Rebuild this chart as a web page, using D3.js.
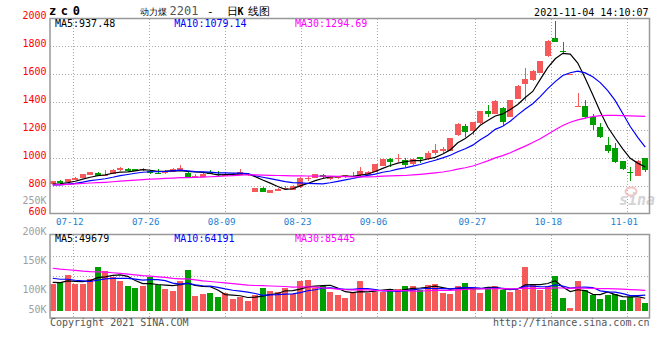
<!DOCTYPE html>
<html><head><meta charset="utf-8">
<title>动力煤2201 日K线图</title>
<script src="https://cdn.jsdelivr.net/npm/d3@7/dist/d3.min.js"></script>
<style>
  body { margin:0; background:#fff; }
  svg { display:block; }
  text { font-family: "DejaVu Sans Mono", monospace; }
</style>
</head><body>
<svg id="chart" width="660" height="360"></svg>
<script>
// ── data ──
const dates = [
  '07-07','07-08','07-09','07-12','07-13','07-14','07-15','07-16','07-19','07-20',
  '07-21','07-22','07-23','07-26','07-27','07-28','07-29','07-30','08-02','08-03',
  '08-04','08-05','08-06','08-09','08-10','08-11','08-12','08-13','08-16','08-17',
  '08-18','08-19','08-20','08-23','08-24','08-25','08-26','08-27','08-30','08-31',
  '09-01','09-02','09-03','09-06','09-07','09-08','09-09','09-10','09-13','09-14',
  '09-15','09-16','09-17','09-22','09-23','09-24','09-27','09-28','09-29','09-30',
  '10-08','10-11','10-12','10-13','10-14','10-15','10-18','10-19','10-20','10-21',
  '10-22','10-25','10-26','10-27','10-28','10-29','11-01','11-02','11-03','11-04'
];
const open = [
  814,838,831,847,859,880,895,878,890,914, 926,923,914,909,897,892,905,916,897,871,
  869,900,885,876,880,883,880,762,790,755, 769,784,774,795,859,862,881,850,857,864,
  873,881,881,905,945,993,995,988,959,1007, 993,1040,1054,1054,1166,1233,1197,1250,1340,1317,
  1357,1297,1426,1531,1559,1612,1731,1862,1766,1600, 1374,1374,1297,1226,1095,1071,981,900,876,1002
];
const high = [
  838,843,855,864,887,904,900,919,921,938, 929,925,933,919,923,916,928,952,899,888,
  893,916,912,892,895,921,897,790,797,776, 786,802,808,866,874,890,890,866,871,883,
  902,940,906,960,995,1005,1031,1002,1000,1010, 1055,1102,1078,1146,1250,1243,1262,1341,1381,1417,
  1364,1420,1522,1647,1631,1697,1842,1982,1830,1600, 1466,1416,1314,1250,1154,1112,983,940,985,1004
];
const low = [
  810,818,829,845,857,878,871,871,888,909, 909,909,909,888,888,890,903,914,864,859,
  867,885,869,871,876,880,876,760,758,752, 766,774,772,790,836,857,857,845,850,860,
  864,876,879,903,943,940,976,935,955,964, 990,1024,1040,1050,1162,1154,1166,1245,1293,1314,
  1238,1293,1422,1409,1555,1608,1727,1830,1752,1600, 1372,1283,1202,1148,1035,964,916,840,874,900
];
const close = [
  835,823,852,862,885,902,876,884,919,928, 911,911,926,897,893,912,926,933,869,876,
  890,890,880,883,886,902,890,786,762,773, 783,790,805,862,862,885,866,864,866,881,
  876,912,904,957,993,976,1000,950,995,993, 1036,1059,1069,1143,1247,1190,1259,1338,1314,1412,
  1262,1416,1519,1564,1626,1693,1838,1833,1757,1600, 1376,1297,1238,1150,1055,976,921,898,978,914
];
// volume, thousand lots
const volume = [
  110,119,146,111,111,130,179,163,140,122, 101,93,101,138,104,89,81,122,167,60,
  69,73,56,73,48,56,38,64,93,81, 77,93,69,122,126,95,101,77,64,53,
  74,122,74,77,77,89,89,101,101,85, 105,110,73,69,101,114,93,73,97,101,
  85,77,85,181,105,85,101,142,52,11, 123,85,64,48,64,69,44,58,52,32
];
// closes / volumes of the 29 sessions before 07-07 (seed the moving averages)
const preClose = [770,778,785,790,796,800,805,808,804,800,802,806,804,
  820,832,845,850,842,835,830, 818,806,798,800,803, 806,812,815,807];
const preVol = [230,215,190,205,185,210,195,220,188,200,192,196,188,
  195,170,188,176,190,180,177, 160,145,152,140,153, 125,110,118,117];

const tickDates = ['07-12','07-26','08-09','08-23','09-06','09-27','10-18','11-01'];
const priceTicks = [2000,1800,1600,1400,1200,1000,800,600];
const volTickLabels = ['200K','150K','100K','50K'];
const priceMaText = ['MA5:937.48','MA10:1079.14','MA30:1294.69'];
const volMaText = ['MA5:49679','MA10:64191','MA30:85445'];
const maPeriods = [5,10,30];
const maColors = ['#000000','#0000ff','#ff00ff'];

// ── layout ──
const svg = d3.select('#chart');
const L = 50, R = 649.5;
const pTop = 18.5, pBot = 213.5, vTop = 234.5, vBot = 318;
const UP = '#f65959', DOWN = '#009f00', GRID = '#a8a8a8';

const xBand = d3.scaleBand().domain(dates).range([49, 649]);
const xGrid = d3.scalePoint().domain(dates).range([50, 650]);
const y = d3.scaleLinear().domain([600, 2000]).range([214.3, 18.3]);
const yVol = d3.scaleLinear().domain([0, 310]).range([310.7, 235.1]);
const cx = (i) => xBand(dates[i]) + xBand.bandwidth() / 2;
const px = (v) => Math.round(v) + 0.5;

function movingAvg(series, pre, n) {
  const all = pre.concat(series);
  return series.map((_, i) => d3.mean(all.slice(pre.length + i - n + 1, pre.length + i + 1)));
}

const defs = svg.append('defs');
defs.append('clipPath').attr('id', 'cp').append('rect')
  .attr('x', L).attr('y', pTop).attr('width', R - L).attr('height', pBot - pTop);
defs.append('clipPath').attr('id', 'cv').append('rect')
  .attr('x', L).attr('y', vTop).attr('width', R - L).attr('height', vBot - vTop);

// grids
const grid = svg.append('g').attr('stroke', GRID).attr('stroke-dasharray', '1,2')
  .attr('shape-rendering', 'crispEdges');
priceTicks.filter(v => v > 600 && v < 2000).forEach(v => {
  grid.append('line').attr('x1', L).attr('x2', R).attr('y1', px(y(v))).attr('y2', px(y(v)));
});
[255.7, 275.7].forEach(yy => {
  grid.append('line').attr('x1', L).attr('x2', R).attr('y1', px(yy)).attr('y2', px(yy));
});
tickDates.forEach(d => {
  const gx = px(xGrid(d));
  grid.append('line').attr('x1', gx).attr('x2', gx).attr('y1', pTop).attr('y2', pBot);
  grid.append('line').attr('x1', gx).attr('x2', gx).attr('y1', vTop).attr('y2', vBot);
});

// watermark
const wm = svg.append('g');
wm.append('ellipse').attr('cx', 631).attr('cy', 191.5).attr('rx', 5.5).attr('ry', 4)
  .attr('fill', 'none').attr('stroke', '#f3c4c4').attr('stroke-width', 2);
wm.append('text').attr('x', 619).attr('y', 205).attr('font-family', 'DejaVu Sans')
  .attr('font-weight', 'bold').attr('font-style', 'italic').attr('font-size', 15)
  .attr('fill', '#d4d4d4').text('sina');

// candles
const idx = d3.range(dates.length);
const isUp = (i) => close[i] >= open[i];
const cg = svg.append('g').attr('clip-path', 'url(#cp)').attr('shape-rendering', 'crispEdges');
cg.selectAll('rect.wick').data(idx).join('rect').attr('class', 'wick')
  .attr('x', i => Math.round(xBand(dates[i]) + 0.75) + 2.5).attr('width', 1)
  .attr('y', i => y(high[i])).attr('height', i => Math.max(1, y(low[i]) - y(high[i])))
  .attr('fill', i => isUp(i) ? UP : DOWN);
cg.selectAll('rect.body').data(idx).join('rect').attr('class', 'body')
  .attr('x', i => Math.round(xBand(dates[i]) + 0.75)).attr('width', 6)
  .attr('y', i => y(Math.max(open[i], close[i])))
  .attr('height', i => Math.max(1, Math.abs(y(open[i]) - y(close[i]))))
  .attr('fill', i => isUp(i) ? UP : DOWN);

// volume bars
const vg = svg.append('g').attr('clip-path', 'url(#cv)').attr('shape-rendering', 'crispEdges');
vg.selectAll('rect').data(idx).join('rect')
  .attr('x', i => Math.round(xBand(dates[i]) + 0.75)).attr('width', 6)
  .attr('y', i => yVol(volume[i])).attr('height', i => yVol(0) - yVol(volume[i]))
  .attr('fill', i => isUp(i) ? UP : DOWN);

// moving averages
maPeriods.forEach((n, k) => {
  const m = movingAvg(close, preClose, n);
  svg.append('path').attr('clip-path', 'url(#cp)')
    .attr('d', d3.line().x((_, i) => cx(i)).y(v => y(v))(m))
    .attr('fill', 'none').attr('stroke', maColors[k]).attr('stroke-width', 1.2);
  const mv = movingAvg(volume, preVol, n);
  svg.append('path').attr('clip-path', 'url(#cv)')
    .attr('d', d3.line().x((_, i) => cx(i)).y(v => yVol(v))(mv))
    .attr('fill', 'none').attr('stroke', maColors[k]).attr('stroke-width', 1.2);
});

// panel borders
const bd = svg.append('g').attr('fill', 'none').attr('stroke', '#999').attr('stroke-width', 1.5);
bd.append('rect').attr('x', L).attr('y', pTop).attr('width', R - L).attr('height', pBot - pTop);
bd.append('rect').attr('x', L).attr('y', vTop).attr('width', R - L).attr('height', vBot - vTop);

// axis labels
const ax = svg.append('g').attr('font-size', 10);
priceTicks.forEach(v => {
  ax.append('text').attr('x', 46.5).attr('y', y(v) + 0.5).attr('text-anchor', 'end')
    .attr('fill', '#f00').text(v);
});
ax.append('text').attr('x', 46.5).attr('y', 204).attr('text-anchor', 'end').attr('fill', '#a0a0a0').text('250K');
[234.7, 264, 293.3, 313.3].forEach((yy, k) => {
  ax.append('text').attr('x', 46.5).attr('y', yy).attr('text-anchor', 'end')
    .attr('fill', '#a0a0a0').text(volTickLabels[k]);
});
tickDates.forEach(d => {
  ax.append('text').attr('x', xGrid(d) - 3).attr('y', 224.7).attr('text-anchor', 'middle')
    .attr('font-size', 9.2).attr('fill', '#1a7fd4').text(d);
});

// headers
const maX = [55, 174.3, 295];
priceMaText.forEach((t, k) => {
  svg.append('text').attr('x', maX[k]).attr('y', 27).attr('font-size', 10).attr('fill', maColors[k]).text(t);
});
volMaText.forEach((t, k) => {
  svg.append('text').attr('x', maX[k]).attr('y', 242.3).attr('font-size', 10).attr('fill', maColors[k]).text(t);
});
svg.append('text').attr('x', 49).attr('y', 15).attr('font-size', 12).attr('font-weight', 'bold')
  .attr('letter-spacing', 4.6).attr('fill', '#000').text('zc0');
const cjk = '"Noto Sans CJK SC", sans-serif';
svg.append('text').attr('x', 140).attr('y', 15).attr('font-family', cjk).attr('font-size', 9.4).text('动力煤');
svg.append('text').attr('x', 169.5).attr('y', 15).attr('font-family', '"Liberation Serif", serif')
  .attr('font-size', 12).attr('fill', '#555').text('2201');
svg.append('text').attr('x', 207).attr('y', 14.5).attr('font-family', cjk).attr('font-size', 11).text('-');
svg.append('text').attr('x', 226.5).attr('y', 15).attr('font-family', cjk).attr('font-size', 10.5).text('日');
svg.append('text').attr('x', 237.5).attr('y', 15).attr('font-family', '"DejaVu Serif", serif')
  .attr('font-weight', 'bold').attr('font-size', 10).text('K');
svg.append('text').attr('x', 248).attr('y', 15).attr('font-family', cjk).attr('font-size', 10.5).text('线图');
svg.append('text').attr('x', 648.5).attr('y', 15.8).attr('text-anchor', 'end').attr('font-size', 10)
  .attr('fill', '#000').text('2021-11-04 14:10:07');

// footer
svg.append('text').attr('x', 50).attr('y', 326).attr('font-size', 10).attr('fill', '#555')
  .text('Copyright 2021 SINA.COM');
svg.append('text').attr('x', 649.5).attr('y', 326).attr('text-anchor', 'end').attr('font-size', 10)
  .attr('fill', '#555').text('http://finance.sina.com.cn');
</script>
</body></html>
